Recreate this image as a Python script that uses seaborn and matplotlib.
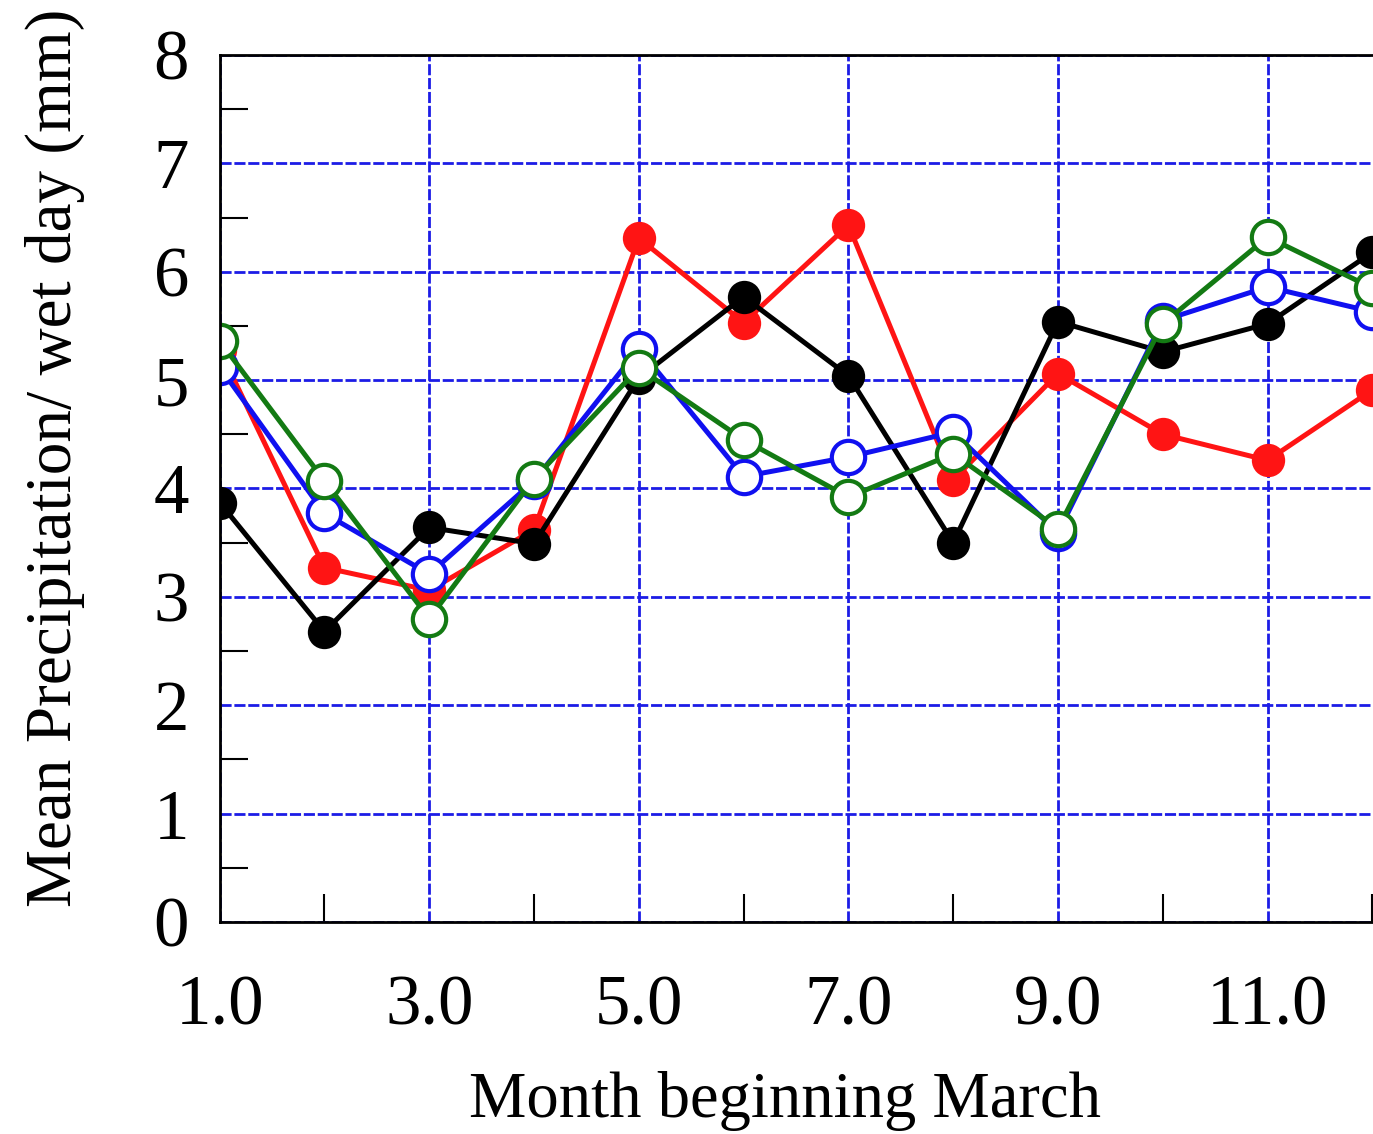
import matplotlib
matplotlib.use("Agg")
import matplotlib.pyplot as plt
import seaborn as sns
from matplotlib.ticker import MultipleLocator

months = [1, 2, 3, 4, 5, 6, 7, 8, 9, 10, 11, 12]
red_vals = [5.28, 3.27, 3.06, 3.62, 6.31, 5.53, 6.43, 4.08, 5.06, 4.50, 4.26, 4.91]
black_vals = [3.87, 2.68, 3.64, 3.49, 5.02, 5.77, 5.04, 3.50, 5.54, 5.26, 5.52, 6.18]
blue_vals = [5.12, 3.77, 3.21, 4.07, 5.29, 4.11, 4.29, 4.52, 3.59, 5.55, 5.86, 5.63]
green_vals = [5.36, 4.07, 2.80, 4.09, 5.11, 4.45, 3.92, 4.32, 3.63, 5.52, 6.32, 5.85]

x_ticks = [1, 3, 5, 7, 9, 11]
x_ticklabels = ["1.0", "3.0", "5.0", "7.0", "9.0", "11.0"]

sns.set_style("white")
plt.rcParams["font.family"] = ["Liberation Serif", "DejaVu Serif"]
plt.rcParams["text.color"] = "black"
plt.rcParams["axes.labelcolor"] = "black"

fig = plt.figure(figsize=(13.73, 11.34), dpi=100)
# axes runs past the right edge of the figure, like the cropped scan
ax = fig.add_axes([0.160, 0.187, 0.8777, 0.7645])

series = [
    (red_vals, "#ff1414", True),
    (black_vals, "#000000", True),
    (blue_vals, "#1010f0", False),
    (green_vals, "#137a13", False),
]
for vals, col, filled in series:
    sns.lineplot(x=months, y=vals, ax=ax, color=col, linewidth=3.6,
                 marker="o", markersize=24,
                 markerfacecolor=col if filled else "white",
                 markeredgecolor=col, markeredgewidth=3 if not filled else 0)

ax.set_xlim(1, 12.5)
ax.set_ylim(0, 8)
ax.set_xticks(x_ticks)
ax.set_xticklabels(x_ticklabels)
ax.set_yticks(range(0, 9))
ax.xaxis.set_minor_locator(MultipleLocator(1))
ax.yaxis.set_minor_locator(MultipleLocator(0.5))

ax.grid(True, which="major", color="#1c1ce6", linestyle=(0, (4, 1)), linewidth=2)
ax.set_axisbelow(True)

ax.tick_params(axis="both", which="both", direction="in", colors="black",
               bottom=True, left=True, top=False, right=False)
ax.tick_params(axis="both", which="major", length=0, labelsize=51)
ax.tick_params(axis="both", which="minor", length=20, width=1.5)
ax.tick_params(axis="y", which="major", pad=22)
ax.tick_params(axis="x", which="major", pad=38)

for side in ["left", "bottom", "top"]:
    ax.spines[side].set_color("black")
    ax.spines[side].set_linewidth(2)
ax.spines["right"].set_visible(False)

ax.set_xlabel("Month beginning March", fontsize=46.5)
ax.set_ylabel("Mean Precipitation/ wet day (mm)", fontsize=47)
ax.xaxis.set_label_coords(0.469, -0.172)
ax.yaxis.set_label_coords(-0.112, 0.535)

fig.savefig("out.png", dpi=100)
